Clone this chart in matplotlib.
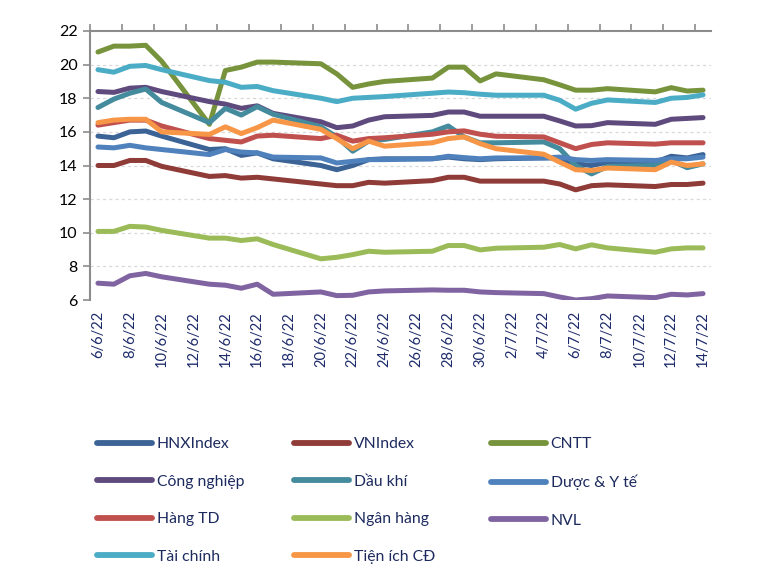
import matplotlib
matplotlib.use("Agg")
import matplotlib.pyplot as plt
import pandas as pd
import numpy as np
from matplotlib.lines import Line2D

plt.rcParams['font.family'] = ['Lato', 'DejaVu Sans']

trading_days = ["2022-06-06", "2022-06-07", "2022-06-08", "2022-06-09", "2022-06-10",
                "2022-06-13", "2022-06-14", "2022-06-15", "2022-06-16", "2022-06-17",
                "2022-06-20", "2022-06-21", "2022-06-22", "2022-06-23", "2022-06-24",
                "2022-06-27", "2022-06-28", "2022-06-29", "2022-06-30", "2022-07-01",
                "2022-07-04", "2022-07-05", "2022-07-06", "2022-07-07", "2022-07-08",
                "2022-07-11", "2022-07-12", "2022-07-13", "2022-07-14"]

tick_labels = ["6/6/22", "8/6/22", "10/6/22", "12/6/22", "14/6/22", "16/6/22", "18/6/22",
               "20/6/22", "22/6/22", "24/6/22", "26/6/22", "28/6/22", "30/6/22", "2/7/22",
               "4/7/22", "6/7/22", "8/7/22", "10/7/22", "12/7/22", "14/7/22"]

hnx_index = [15.75, 15.65, 16.0, 16.05, 15.75, 14.95, 15.0, 14.6, 14.75, 14.4,
             14.0, 13.75, 14.0, 14.35, 14.4, 14.4, 14.5, 14.4, 14.35, 14.4,
             14.45, 14.45, 14.1, 14.0, 14.2, 14.2, 14.55, 14.45, 14.65]
vn_index = [14.0, 14.0, 14.3, 14.3, 13.95, 13.35, 13.4, 13.25, 13.3, 13.2,
            12.9, 12.8, 12.8, 13.0, 12.95, 13.1, 13.3, 13.3, 13.07, 13.07,
            13.07, 12.9, 12.55, 12.8, 12.85, 12.75, 12.87, 12.87, 12.95]
cntt = [20.75, 21.1, 21.1, 21.15, 20.2, 16.45, 19.65, 19.85, 20.15, 20.15,
        20.05, 19.45, 18.65, 18.85, 19.0, 19.2, 19.85, 19.85, 19.03, 19.45,
        19.1, 18.8, 18.48, 18.48, 18.57, 18.38, 18.63, 18.43, 18.48]
cong_nghiep = [18.4, 18.35, 18.6, 18.65, 18.4, 17.8, 17.65, 17.4, 17.55, 17.1,
               16.6, 16.25, 16.35, 16.7, 16.9, 16.98, 17.18, 17.18, 16.93, 16.93,
               16.93, 16.65, 16.35, 16.37, 16.55, 16.45, 16.75, 16.8, 16.85]
dau_khi = [17.45, 17.95, 18.3, 18.55, 17.75, 16.55, 17.4, 17.0, 17.5, 17.05,
           16.3, 15.7, 14.85, 15.45, 15.55, 16.0, 16.35, 15.7, 15.35, 15.35,
           15.4, 15.0, 14.0, 13.5, 13.95, 14.0, 14.3, 13.87, 14.1]
duoc_y_te = [15.1, 15.05, 15.2, 15.05, 14.95, 14.65, 14.95, 14.8, 14.75, 14.5,
             14.45, 14.15, 14.25, 14.35, 14.35, 14.4, 14.55, 14.47, 14.4, 14.45,
             14.45, 14.5, 14.35, 14.3, 14.35, 14.3, 14.4, 14.4, 14.5]
hang_td = [16.4, 16.55, 16.7, 16.7, 16.35, 15.6, 15.5, 15.4, 15.75, 15.8,
           15.6, 15.8, 15.45, 15.6, 15.65, 15.86, 16.0, 16.06, 15.86, 15.74,
           15.7, 15.35, 15.0, 15.25, 15.35, 15.27, 15.35, 15.35, 15.35]
ngan_hang = [10.08, 10.08, 10.38, 10.34, 10.14, 9.68, 9.68, 9.54, 9.64, 9.3,
             8.45, 8.54, 8.7, 8.9, 8.84, 8.9, 9.24, 9.24, 8.98, 9.08,
             9.14, 9.3, 9.04, 9.28, 9.1, 8.84, 9.04, 9.1, 9.1]
nvl = [7.0, 6.94, 7.44, 7.58, 7.38, 6.94, 6.88, 6.7, 6.94, 6.34,
       6.48, 6.26, 6.28, 6.48, 6.54, 6.6, 6.58, 6.58, 6.48, 6.44,
       6.38, 6.18, 6.0, 6.08, 6.24, 6.14, 6.34, 6.3, 6.38]
tai_chinh = [19.7, 19.55, 19.9, 19.95, 19.7, 19.05, 18.95, 18.65, 18.7, 18.45,
             18.0, 17.8, 18.0, 18.05, 18.1, 18.3, 18.37, 18.33, 18.24, 18.18,
             18.18, 17.88, 17.35, 17.7, 17.9, 17.75, 18.0, 18.05, 18.2]
tien_ich_cd = [16.55, 16.7, 16.75, 16.75, 16.0, 15.85, 16.3, 15.9, 16.25, 16.7,
               16.15, 15.6, 15.0, 15.45, 15.15, 15.35, 15.6, 15.7, 15.3, 15.0,
               14.67, 14.2, 13.75, 13.7, 13.85, 13.75, 14.2, 14.0, 14.1]

series_names = ["HNXIndex", "VNIndex", "CNTT", "Công nghiệp", "Dầu khí", "Dược & Y tế",
                "Hàng TD", "Ngân hàng", "NVL", "Tài chính", "Tiện ích CĐ"]
series_values = [hnx_index, vn_index, cntt, cong_nghiep, dau_khi, duoc_y_te,
                 hang_td, ngan_hang, nvl, tai_chinh, tien_ich_cd]
colors = ["#3B6396", "#8F3B37", "#77933C", "#5F4A7E", "#438B9D", "#4F81BD",
          "#C0504D", "#9BBB59", "#8064A2", "#4BACC6", "#F79646"]

dates = pd.to_datetime(trading_days)
start = dates[0]
x = np.array([(d - start).days for d in dates], dtype=float)
n_days = (dates[-1] - start).days

fig = plt.figure(figsize=(7.65, 5.78), dpi=100)
ax = fig.add_axes([90 / 765, 1 - 300 / 578, 621 / 765, 269 / 578])

for name, vals, c in zip(series_names, series_values, colors):
    ax.plot(x, vals, color=c, lw=3.6, solid_joinstyle='round', solid_capstyle='round',
            label=name, zorder=3)

ax.set_xlim(-0.5, n_days + 0.5)
ax.set_ylim(6, 22)
ax.set_yticks(np.arange(6, 23, 2))
ax.set_yticklabels([str(v) for v in range(6, 23, 2)], fontsize=11.5, color="black")

label_pos = np.arange(0, n_days + 1, 2)
ax.set_xticks(label_pos)
ax.set_xticklabels(tick_labels, rotation=90, fontsize=10.5, color="#1C2A6A")
ax.set_xticks(np.arange(-0.5, n_days, 2), minor=True)
ax.tick_params(axis='x', which='major', length=0, pad=8, top=False, bottom=True)
ax.tick_params(axis='x', which='minor', length=5, width=1.2, color="#8C8C8C",
               top=True, bottom=False, direction='out')
ax.tick_params(axis='y', which='major', length=5, width=1.2, color="#8C8C8C",
               direction='out', pad=4)

for s in ['right', 'bottom']:
    ax.spines[s].set_visible(False)
for s in ['top', 'left']:
    ax.spines[s].set_color("#8C8C8C")
    ax.spines[s].set_linewidth(1.5)

for gv in range(8, 22, 2):
    ax.axhline(gv, color="#D9D9D9", lw=0.9, ls=(0, (2.5, 2.5)), zorder=1)

# legend: three columns, row-wise order
col_x = [97 / 765, 294 / 765, 491 / 765]
for ci in range(3):
    idx = list(range(ci, len(series_names), 3))
    handles = [Line2D([0], [0], color=colors[i], lw=4.2, solid_capstyle='round')
               for i in idx]
    labels = [series_names[i] for i in idx]
    leg = fig.legend(handles, labels, loc='upper left',
                     bbox_to_anchor=(col_x[ci], 1 - 437 / 578),
                     frameon=False, fontsize=11.3, handlelength=3.5,
                     handletextpad=0.3, labelspacing=1.5,
                     borderaxespad=0, borderpad=0, labelcolor="#1C2A5E")

fig.savefig("out.png", dpi=100)
